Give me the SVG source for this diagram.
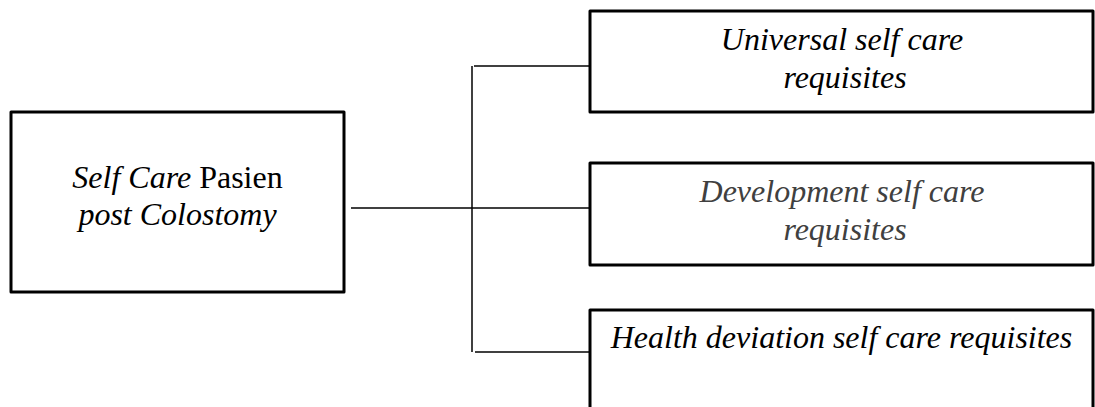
<svg xmlns="http://www.w3.org/2000/svg" width="1095" height="407" viewBox="0 0 1095 407">
<style>
.box{fill:#fff;stroke:#000;stroke-width:3;stroke-linejoin:round}
.t{font-family:'Liberation Serif','DejaVu Serif',serif;font-size:32px;fill:#000;text-anchor:middle}
.i{font-style:italic}
.conn line{stroke:#000;stroke-width:1.5}
</style>
<rect width="1095" height="407" fill="#fff"/>
<g id="connectors" class="conn">
<line x1="351" y1="208" x2="590" y2="208"/>
<line x1="472" y1="66" x2="472" y2="352"/>
<line x1="474" y1="66" x2="597" y2="66"/>
<line x1="475" y1="352" x2="598" y2="352"/>
</g>
<g id="node-main">
<rect class="box" x="11" y="112" width="333" height="180"/>
<text class="t" x="177.5" y="188"><tspan class="i">Self Care</tspan> Pasien</text>
<text class="t i" x="177.5" y="225">post Colostomy</text>
</g>
<g id="node-universal">
<rect class="box" x="590" y="11" width="503" height="101"/>
<text class="t i" x="842" y="50">Universal self care</text>
<text class="t i" x="845" y="88">requisites</text>
</g>
<g id="node-development">
<rect class="box" x="590" y="163" width="503" height="102"/>
<text class="t i" x="842" y="202" style="fill:#404040">Development self care</text>
<text class="t i" x="845" y="240" style="fill:#404040">requisites</text>
</g>
<g id="node-health">
<rect class="box" x="590" y="310" width="503" height="120"/>
<text class="t i" x="841.5" y="348">Health deviation self care requisites</text>
</g>
</svg>
